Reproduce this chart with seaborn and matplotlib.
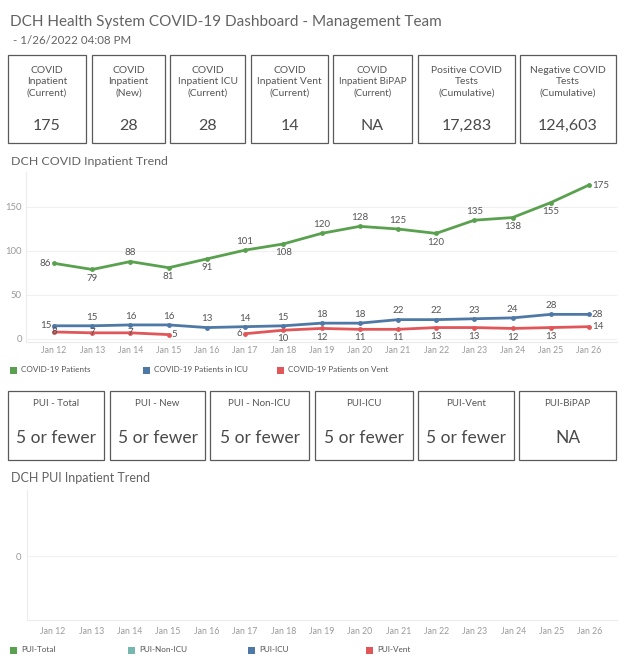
import numpy as np
import pandas as pd
import matplotlib
matplotlib.use("Agg")
import matplotlib.pyplot as plt
from matplotlib.patches import Rectangle
import seaborn as sns

# ---------------- data ----------------
dates = ["Jan 12", "Jan 13", "Jan 14", "Jan 15", "Jan 16", "Jan 17", "Jan 18", "Jan 19",
         "Jan 20", "Jan 21", "Jan 22", "Jan 23", "Jan 24", "Jan 25", "Jan 26"]
covid_patients = [86, 79, 88, 81, 91, 101, 108, 120, 128, 125, 120, 135, 138, 155, 175]
covid_icu = [15, 15, 16, 16, 13, 14, 15, 18, 18, 22, 22, 23, 24, 28, 28]
covid_vent = [8, 7, 7, 5, np.nan, 6, 10, 12, 11, 11, 13, 13, 12, 13, 14]
series_names = ["COVID-19 Patients", "COVID-19 Patients in ICU", "COVID-19 Patients on Vent"]

kpi_labels = ["COVID\nInpatient\n(Current)", "COVID\nInpatient\n(New)", "COVID\nInpatient ICU\n(Current)",
              "COVID\nInpatient Vent\n(Current)", "COVID\nInpatient BiPAP\n(Current)",
              "Positive COVID\nTests\n(Cumulative)", "Negative COVID\nTests\n(Cumulative)"]
kpi_values = ["175", "28", "28", "14", "NA", "17,283", "124,603"]

pui_labels = ["PUI - Total", "PUI - New", "PUI - Non-ICU", "PUI-ICU", "PUI-Vent", "PUI-BiPAP"]
pui_values = ["5 or fewer", "5 or fewer", "5 or fewer", "5 or fewer", "5 or fewer", "NA"]
pui_series = ["PUI-Total", "PUI-Non-ICU", "PUI-ICU", "PUI-Vent"]

title = "DCH Health System COVID-19 Dashboard - Management Team"
subtitle = " - 1/26/2022 04:08 PM"

# ---------------- style ----------------
GREEN, BLUE, RED, TEAL = "#59a14f", "#4e79a7", "#e15759", "#76b7b2"
series_colors = [GREEN, BLUE, RED]
pui_colors = [GREEN, TEAL, BLUE, RED]
TXT = "#555555"
LIGHT = "#9a9a9a"

sns.set_theme(style="white")
plt.rcParams["font.family"] = ["Lato", "DejaVu Sans"]

W, H = 624, 661
fig = plt.figure(figsize=(W / 100, H / 100), dpi=100)
fig.patch.set_facecolor("white")


def fx(x):
    return x / W


def fy(y):
    return 1 - y / H


def box(x0, y0, x1, y1):
    fig.add_artist(Rectangle((fx(x0), fy(y1)), (x1 - x0) / W, (y1 - y0) / H,
                             transform=fig.transFigure, fill=False,
                             edgecolor="#5a5a5a", linewidth=0.9))


# header
fig.text(fx(10), fy(22), title, fontsize=11, color="#636363", va="center", ha="left")
fig.text(fx(10), fy(41), subtitle, fontsize=8.3, color="#636363", va="center", ha="left")

# KPI boxes
kpi_x = [(8, 86), (92, 165), (170, 245), (251, 328), (333, 412), (418, 515), (520, 616)]
for (x0, x1), lab, val in zip(kpi_x, kpi_labels, kpi_values):
    box(x0, 55, x1, 143)
    cx = (x0 + x1) / 2
    fs = 7.0 if "BiPAP" in lab else 7.4
    fig.text(fx(cx), fy(82), lab, fontsize=fs, color=TXT, ha="center", va="center",
             linespacing=1.35)
    fig.text(fx(cx), fy(126), val, fontsize=11.5, color="#4a4a4a", ha="center", va="center")

# ---------------- main trend chart ----------------
fig.text(fx(11), fy(162), "DCH COVID Inpatient Trend", fontsize=8.9, color="#636363",
         va="center", ha="left")

rows = []
for name, vals in zip(series_names, [covid_patients, covid_icu, covid_vent]):
    seg = 0
    for i, v in enumerate(vals):
        if np.isnan(v):
            seg += 1
            continue
        rows.append({"pos": i, "value": v, "series": name, "seg": seg})
df = pd.DataFrame(rows)

ax = fig.add_axes([fx(26), fy(342), (617 - 26) / W, (342 - 172) / H])
sns.lineplot(data=df, x="pos", y="value", hue="series", units="seg", estimator=None,
             palette=dict(zip(series_names, series_colors)), hue_order=series_names,
             marker="o", markersize=3.5, markeredgewidth=0, linewidth=2,
             legend=False, ax=ax, sort=False)

x_left = -(54 - 26) / 38.21
x_right = 14 + (617 - 589) / 38.21
ax.set_xlim(x_left, x_right)
ax.set_ylim(-(342 - 339) / 0.88, (339 - 172) / 0.88)
ax.set_xticks(range(len(dates)))
ax.set_xticklabels(dates)
ax.set_yticks([0, 50, 100, 150])
ax.set_xlabel("")
ax.set_ylabel("")
ax.tick_params(axis="x", length=0, pad=3, labelsize=6.3, labelcolor=LIGHT)
ax.tick_params(axis="y", length=0, pad=3, labelsize=6.8, labelcolor=LIGHT)
ax.grid(axis="y", color="#f0f0f0", linewidth=0.8)
ax.grid(axis="x", visible=False)
for s in ["top", "right"]:
    ax.spines[s].set_visible(False)
for s in ["left", "bottom"]:
    ax.spines[s].set_color("#ececec")
    ax.spines[s].set_linewidth(0.8)

offsets = {"above": ((0, 3), "center", "bottom"), "below": ((0, -3), "center", "top"),
           "left": ((-2, 0), "right", "center"), "right": ((2, 0), "left", "center"),
           "center": ((0, 0), "center", "center")}
green_pos = ["left", "below", "above", "below", "below", "above", "below", "above",
             "above", "above", "below", "above", "below", "below", "right"]
blue_pos = ["left"] + ["above"] * 13 + ["right"]
red_pos = ["center", "center", "center", "right", None, "left"] + ["below"] * 8 + ["right"]
for vals, poss in [(covid_patients, green_pos), (covid_icu, blue_pos), (covid_vent, red_pos)]:
    for i, (v, p) in enumerate(zip(vals, poss)):
        if p is None or np.isnan(v):
            continue
        off, ha, va = offsets[p]
        ax.annotate(f"{int(v)}", (i, v), xytext=off, textcoords="offset points",
                    ha=ha, va=va, fontsize=7, color=TXT)

# legend (main)
for (sx, name, col) in zip([10, 143, 277], series_names, series_colors):
    fig.add_artist(Rectangle((fx(sx), fy(374)), 7 / W, 7 / H, transform=fig.transFigure,
                             facecolor=col, edgecolor="none"))
    fig.text(fx(sx + 11), fy(370), name, fontsize=5.9, color=TXT, va="center", ha="left")

# PUI boxes
pui_x = [(8, 104), (110, 205), (210, 309), (315, 413), (418, 514), (519, 616)]
for (x0, x1), lab, val in zip(pui_x, pui_labels, pui_values):
    box(x0, 391, x1, 460)
    cx = (x0 + x1) / 2
    fig.text(fx(cx), fy(404), lab, fontsize=7, color=TXT, ha="center", va="center")
    fig.text(fx(cx), fy(438), val, fontsize=12.5, color="#4a4a4a", ha="center", va="center")

# ---------------- PUI trend chart ----------------
fig.text(fx(11), fy(478), "DCH PUI Inpatient Trend", fontsize=9, color="#636363",
         va="center", ha="left")
ax2 = fig.add_axes([fx(27), fy(620), (617 - 27) / W, (620 - 490) / H])
pui_df = pd.DataFrame({"pos": list(range(len(dates))), "value": [np.nan] * len(dates)})
sns.lineplot(data=pui_df.dropna(), x="pos", y="value", ax=ax2, legend=False)
x_left2 = -(53 - 27) / 38.36
x_right2 = 14 + (617 - 590) / 38.36
ax2.set_xlim(x_left2, x_right2)
ax2.set_ylim(-(620 - 556), 556 - 490)
ax2.set_xticks(range(len(dates)))
ax2.set_xticklabels(dates)
ax2.set_yticks([0])
ax2.set_xlabel("")
ax2.set_ylabel("")
ax2.tick_params(axis="x", length=0, pad=5, labelsize=6.3, labelcolor=LIGHT)
ax2.tick_params(axis="y", length=0, pad=4, labelsize=6.8, labelcolor=LIGHT)
ax2.grid(axis="y", color="#f0f0f0", linewidth=0.8)
ax2.grid(axis="x", visible=False)
for s in ["top", "right"]:
    ax2.spines[s].set_visible(False)
for s in ["left", "bottom"]:
    ax2.spines[s].set_color("#ececec")
    ax2.spines[s].set_linewidth(0.8)

for (sx, name, col) in zip([10, 128, 248, 366], pui_series, pui_colors):
    fig.add_artist(Rectangle((fx(sx), fy(654)), 7 / W, 7 / H, transform=fig.transFigure,
                             facecolor=col, edgecolor="none"))
    fig.text(fx(sx + 11), fy(650), name, fontsize=5.9, color=TXT, va="center", ha="left")

fig.savefig("out.png", dpi=100, facecolor="white")
